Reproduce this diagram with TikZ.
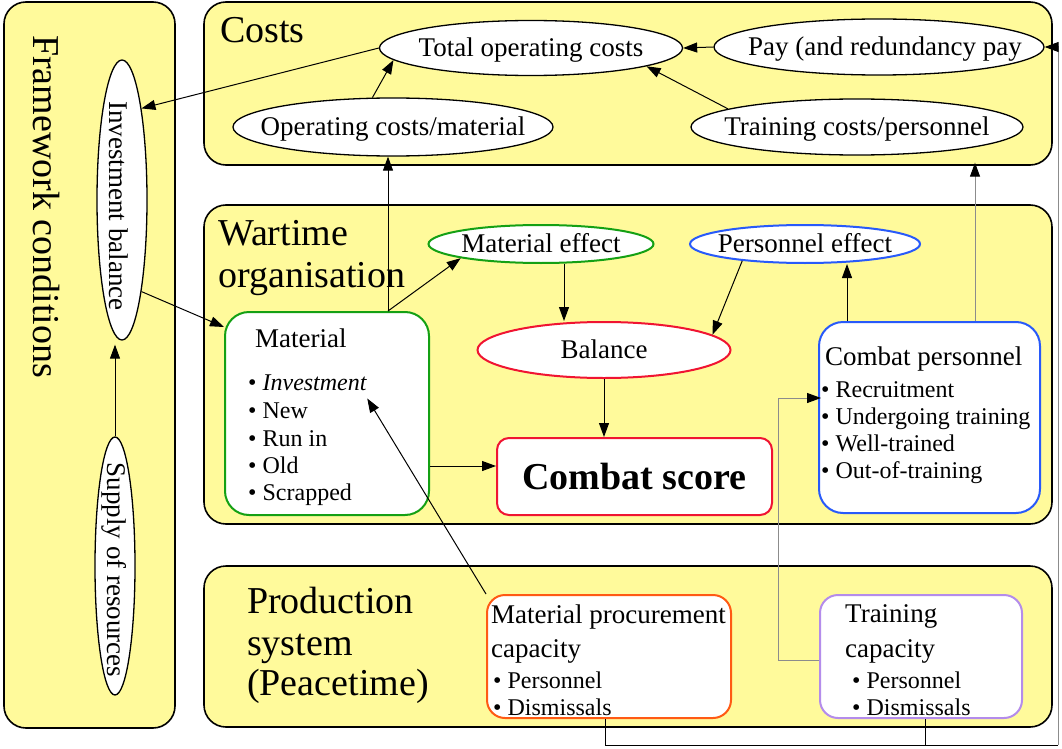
\documentclass[tikz,border=0pt]{standalone}
\usepackage{fontspec}
\setmainfont{Liberation Serif}
\usetikzlibrary{shapes.geometric,arrows.meta}
\definecolor{panelyellow}{RGB}{255,250,155}
\definecolor{matgreen}{RGB}{20,160,20}
\definecolor{pblue}{RGB}{40,90,250}
\definecolor{cred}{RGB}{240,20,50}
\definecolor{porange}{RGB}{255,90,20}
\definecolor{plav}{RGB}{180,140,235}
\newcommand{\zctext}[1]{\raisebox{-0.33em}[0pt][0pt]{\makebox[0pt]{#1}}}
\tikzset{
 panel/.style={draw=black, line width=1.6pt, fill=panelyellow, rounded corners=22pt},
 ell/.style={ellipse, draw=black, line width=1.3pt, fill=white, inner sep=0pt, font=\fontsize{27}{30}\selectfont},
 cell/.style={ell, line width=2pt},
 box/.style={rectangle, rounded corners=24pt, line width=2pt, fill=white, inner sep=0pt},
 conn/.style={line width=1pt, -{Triangle[length=14pt,width=10pt]}},
 graylink/.style={line width=1pt, draw=black!45, -{Triangle[length=14pt,width=10pt,black]}},
 plain/.style={line width=1pt},
 title/.style={font=\fontsize{38}{41}\selectfont, inner sep=0pt},
 txt/.style={font=\fontsize{27}{30}\selectfont, inner sep=0pt},
 btxt/.style={font=\fontsize{24}{27}\selectfont, inner sep=0pt},
}
\begin{document}
\begin{tikzpicture}[x=1pt,y=-1pt]
\useasboundingbox (0,0) rectangle (1062,749);
\fill[white] (0,0) rectangle (1062,749);

% panels
\draw[panel] (4,2) rectangle (175,728);
\draw[panel] (204,2) rectangle (1052,165);
\draw[panel] (204,205) rectangle (1052,524);
\draw[panel] (204,566) rectangle (1052,727);

% titles
\node[title, rotate=-90, anchor=base west] (fwtitle) at (33,35) {Framework conditions};
\node[title, anchor=base west] (coststitle) at (220,43) {Costs};
\node[title, anchor=base west] (wart1) at (218,245) {Wartime};
\node[title, anchor=base west] (wart2) at (218,287) {organisation};
\node[title, anchor=base west] (prod1) at (247,613) {Production};
\node[title, anchor=base west] (prod2) at (247,655) {system};
\node[title, anchor=base west] (prod3) at (247,695) {(Peacetime)};

% framework ellipses
\node[ell, minimum width=50pt, minimum height=280pt] (invbal) at (122,200) {};
\node[txt, rotate=-90] (invbaltxt) at (119,206) {Investment balance};
\node[ell, minimum width=40pt, minimum height=258pt] (sup) at (115,566) {};
\node[txt, rotate=-90] (suptxt) at (114,570) {Supply of resources};

% costs ellipses
\node[ell, minimum width=303pt, minimum height=55pt] (tot) at (531,48) {\zctext{Total operating costs}};
\node[ell, minimum width=330pt, minimum height=56pt] (pay) at (879,47) {\zctext{\hspace{12pt}Pay (and redundancy pay}};
\node[ell, minimum width=320pt, minimum height=58pt] (opc) at (393,127) {\zctext{Operating costs/material}};
\node[ell, minimum width=332pt, minimum height=56pt] (trc) at (857,127) {\zctext{Training costs/personnel}};

% wartime
\node[box, draw=matgreen, minimum width=204pt, minimum height=203pt] (mat) at (327,413.5) {};
\node[txt, anchor=base west] (mattitle) at (255,347) {Material};
\node[btxt, anchor=base west] (m1) at (248,390) {\textbullet\ \textit{Investment}};
\node[btxt, anchor=base west] (m2) at (248,418) {\textbullet\ New};
\node[btxt, anchor=base west] (m3) at (248,446) {\textbullet\ Run in};
\node[btxt, anchor=base west] (m4) at (248,473) {\textbullet\ Old};
\node[btxt, anchor=base west] (m5) at (248,500) {\textbullet\ Scrapped};

\node[cell, draw=matgreen, minimum width=225pt, minimum height=38pt] (matef) at (541,244) {\zctext{Material effect}};
\node[cell, draw=pblue, minimum width=230pt, minimum height=38pt] (pe) at (805,244) {\zctext{Personnel effect}};
\node[cell, draw=cred, minimum width=253pt, minimum height=56pt] (bal) at (604,350) {\zctext{Balance}};
\node[box, rounded corners=12pt, draw=cred, minimum width=275pt, minimum height=77pt, font=\fontsize{38}{41}\selectfont\bfseries] (cs) at (634.5,476.5) {Combat score};

\node[box, draw=pblue, minimum width=221pt, minimum height=191pt] (cp) at (929.5,417.5) {};
\node[txt, anchor=base west] (cptitle) at (825,365) {Combat personnel};
\node[btxt, anchor=base west] (r1) at (821,397) {\textbullet\ Recruitment};
\node[btxt, anchor=base west] (r2) at (821,424) {\textbullet\ Undergoing training};
\node[btxt, anchor=base west] (r3) at (821,451) {\textbullet\ Well-trained};
\node[btxt, anchor=base west] (r4) at (821,478) {\textbullet\ Out-of-training};

% production
\node[box, rounded corners=18pt, draw=porange, minimum width=244pt, minimum height=123pt] (mp) at (609,656.5) {};
\node[txt, anchor=base west] (mp1) at (491,623) {Material procurement};
\node[txt, anchor=base west] (mp2) at (491,657) {capacity};
\node[btxt, anchor=base west] (mp3) at (493,688) {\textbullet\ Personnel};
\node[btxt, anchor=base west] (mp4) at (493,715) {\textbullet\ Dismissals};

\node[box, rounded corners=18pt, draw=plav, minimum width=202pt, minimum height=123pt] (tc) at (921,656.5) {};
\node[txt, anchor=base west] (tc1) at (845,622) {Training};
\node[txt, anchor=base west] (tc2) at (845,657) {capacity};
\node[btxt, anchor=base west] (tc3) at (852,688) {\textbullet\ Personnel};
\node[btxt, anchor=base west] (tc4) at (852,715) {\textbullet\ Dismissals};

% helper coordinates
\coordinate (xm) at (388,0);
\coordinate (xa) at (564,0);
\coordinate (ym) at (0,466);
\coordinate (xp) at (847,0);
\coordinate (xt) at (975,0);
\coordinate (tcA) at (778,660);
\coordinate (tcB) at (778,398);
\coordinate (bl) at (605,745);
\coordinate (bt) at (925,745);
\coordinate (br) at (1058,745);

% connectors
\draw[conn] (tot.west) -- (invbal.78);
\draw[conn] (invbal.-78) -- ([yshift=-16pt]mat.north west);
\draw[conn, shorten >=4pt] (sup.north) -- (invbal.south -| sup.north);
\draw[conn] (opc.125) -- (tot.185);
\draw[conn] (trc.172) -- (tot.351);
\draw[conn] (pay.west) -- (tot.east);
\draw[conn] (mat.north -| xm) -- (opc.south -| xm);
\draw[conn] (mat.north -| xm) -- (matef.south west);
\draw[conn] (matef.south -| xa) -- (bal.north -| xa);
\draw[conn] (pe.195) -- (bal.8);
\draw[conn] (bal.south) -- (bal.south |- cs.north);
\draw[conn] (mat.east |- ym) -- (cs.west |- ym);
\draw[conn] (cp.north -| xp) -- (pe.south -| xp);
\draw[graylink, shorten >=7pt] (cp.north -| xt) -- (trc.south -| xt);
\draw[conn] (mp.north west) -- ([yshift=-8pt]m1.south east);
\draw[graylink] (tc.west |- tcA) -- (tcA) -- (tcB) -- (r1.west |- tcB);
\draw[plain] (mp.south -| bl) -- (bl) -- (br);
\draw[plain] (tc.south -| bt) -- (bt);
\draw[graylink] (br) |- (pay.east);
\end{tikzpicture}
\end{document}
